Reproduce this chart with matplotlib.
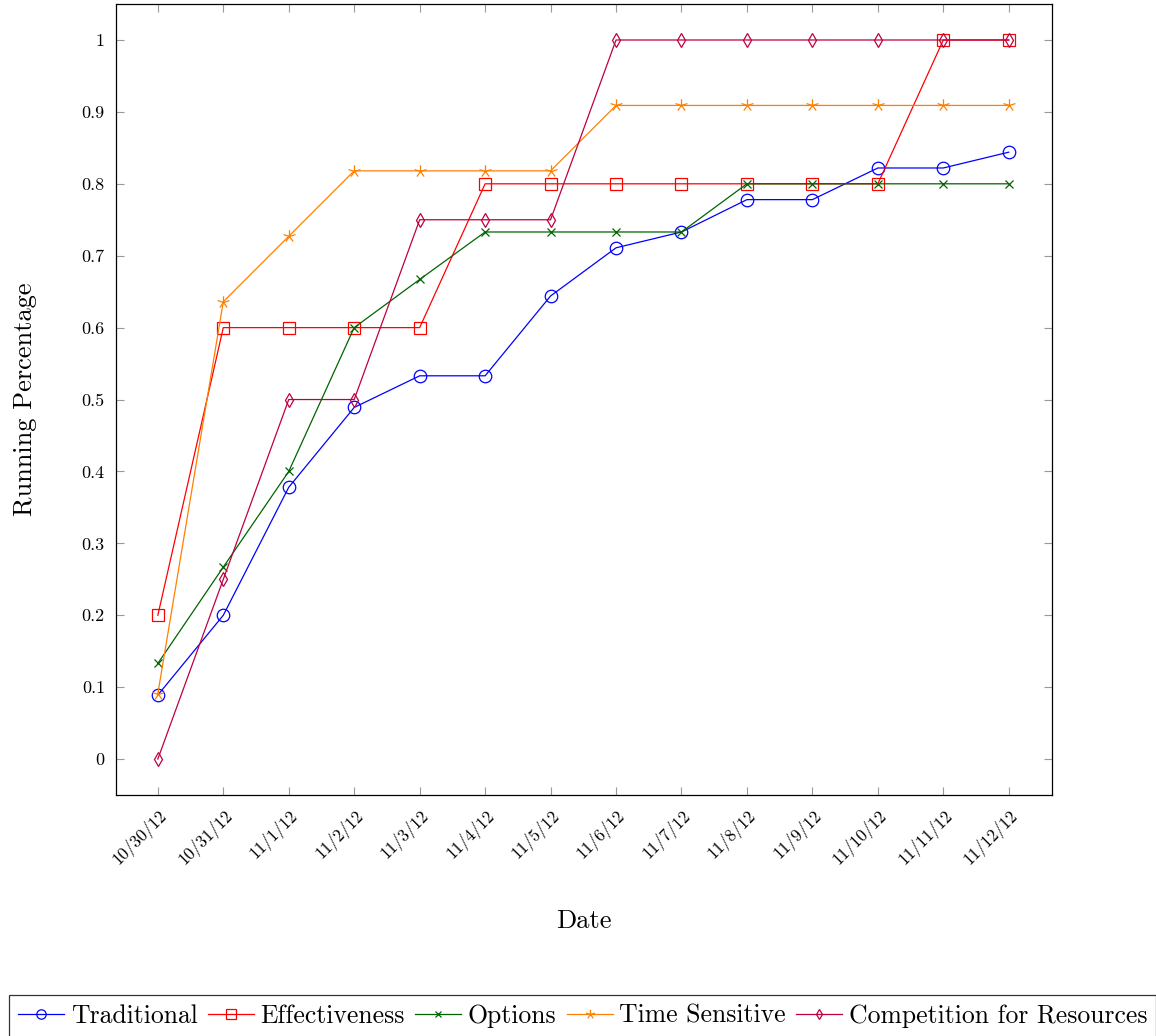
import numpy as np
import matplotlib.pyplot as plt
from matplotlib.path import Path

plt.rcParams['font.family'] = ['cmr10', 'DejaVu Serif']
plt.rcParams['axes.unicode_minus'] = False
plt.rcParams['mathtext.fontset'] = 'cm'

dates = ['10/30/12', '10/31/12', '11/1/12', '11/2/12', '11/3/12', '11/4/12', '11/5/12',
         '11/6/12', '11/7/12', '11/8/12', '11/9/12', '11/10/12', '11/11/12', '11/12/12']

traditional = [0.089, 0.2, 0.378, 0.489, 0.533, 0.533, 0.644,
               0.711, 0.733, 0.778, 0.778, 0.822, 0.822, 0.844]
effectiveness = [0.2, 0.6, 0.6, 0.6, 0.6, 0.8, 0.8,
                 0.8, 0.8, 0.8, 0.8, 0.8, 1.0, 1.0]
options = [0.133, 0.267, 0.4, 0.6, 0.667, 0.733, 0.733,
           0.733, 0.733, 0.8, 0.8, 0.8, 0.8, 0.8]
time_sensitive = [0.091, 0.636, 0.727, 0.818, 0.818, 0.818, 0.818,
                  0.909, 0.909, 0.909, 0.909, 0.909, 0.909, 0.909]
competition = [0.0, 0.25, 0.5, 0.5, 0.75, 0.75, 0.75,
               1.0, 1.0, 1.0, 1.0, 1.0, 1.0, 1.0]

# five-spoke asterisk, like the pgfplots "star" mark
verts, codes = [], []
for a in np.deg2rad(90 + 72 * np.arange(5)):
    verts += [(0, 0), (np.cos(a), np.sin(a))]
    codes += [Path.MOVETO, Path.LINETO]
star = Path(verts, codes)

series = [
    ('Traditional', traditional, 'blue', 'o', 9),
    ('Effectiveness', effectiveness, 'red', 's', 9),
    ('Options', options, '#006400', 'x', 6),
    ('Time Sensitive', time_sensitive, '#ff8000', star, 9),
    ('Competition for Resources', competition, '#bf0040', 'd', 7),
]

fig = plt.figure(figsize=(11.56, 10.36), dpi=100)
ax = fig.add_axes([0.1003, 0.2326, 0.8097, 0.7635])

x = list(range(len(dates)))
for name, vals, col, mk, ms in series:
    ax.plot(x, vals, color=col, lw=0.9, marker=mk, ms=ms, mfc='none',
            mec=col, mew=0.9, label=name)

ax.set_xlim(-0.64, 13.66)
ax.set_ylim(-0.05, 1.05)
ax.set_xticks(x)
ax.set_xticklabels(dates, rotation=45, ha='right', rotation_mode='anchor', fontsize=12.5)
ax.set_yticks([i / 10 for i in range(11)])
ax.set_yticklabels(['0', '0.1', '0.2', '0.3', '0.4', '0.5', '0.6', '0.7', '0.8', '0.9', '1'],
                   fontsize=13)
ax.tick_params(direction='in', length=6, width=0.8, color='#999999',
               top=True, right=True, pad=8)
for s in ax.spines.values():
    s.set_linewidth(0.9)

ax.set_xlabel('Date', fontsize=19, labelpad=30)
ax.set_ylabel('Running Percentage', fontsize=19, labelpad=32)

leg = fig.legend(loc='lower center', bbox_to_anchor=(0.504, -0.008), ncol=5, fontsize=18.5,
                 frameon=True, fancybox=False, edgecolor='black', handlelength=1.8,
                 handletextpad=0.25, columnspacing=0.4, borderpad=0.35, borderaxespad=0.3,
                 markerscale=0.75)
leg.get_frame().set_linewidth(0.9)

fig.savefig('out.png')
